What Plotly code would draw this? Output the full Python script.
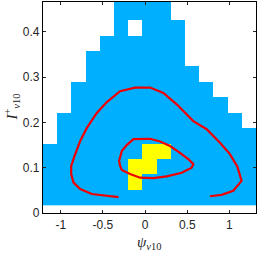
import plotly.graph_objects as go

# ---- data ----
# histogram bin centres
x_centers = [-1.126 + 0.1683 * k for k in range(15)]
y_centers = [0.035 + 0.034 * k for k in range(14)]
# number of filled (blue) rows in each column, from bottom
col_heights = [4, 6, 8, 10, 11, 14, 14, 14, 14, 12, 9, 8, 7, 6, 5]
# empty cells (col, row) inside the filled area
holes = [(6, 11)]
# high-density (yellow) cells (col, row)
yellow_cells = [(6, 1), (6, 2), (7, 2), (7, 3), (8, 3)]

# contour lines
outer_x = [-0.315, -0.473, -0.631, -0.769, -0.848, -0.876, -0.876, -0.828, -0.769, -0.690,
           -0.572, -0.453, -0.296, -0.118, 0.059, 0.217, 0.375, 0.572, 0.730, 0.888,
           1.006, 1.093, 1.144, 1.045, 0.907, 0.769]
outer_y = [0.035, 0.038, 0.042, 0.053, 0.067, 0.086, 0.104, 0.130, 0.159, 0.188,
           0.221, 0.245, 0.269, 0.277, 0.277, 0.265, 0.240, 0.203, 0.185, 0.155,
           0.130, 0.103, 0.071, 0.049, 0.040, 0.037]
inner_x = [-0.296, -0.308, -0.276, -0.217, -0.138, -0.039, 0.059, 0.178, 0.296, 0.414,
           0.513, 0.572, 0.552, 0.434, 0.257, 0.098, -0.059, -0.178, -0.276, -0.296]
inner_y = [0.104, 0.115, 0.137, 0.150, 0.163, 0.164, 0.164, 0.158, 0.148, 0.133,
           0.119, 0.108, 0.100, 0.089, 0.081, 0.077, 0.078, 0.086, 0.095, 0.104]

x_ticks = [-1, -0.5, 0, 0.5, 1]
x_ticklabels = ["-1", "-0.5", "0", "0.5", "1"]
y_ticks = [0, 0.1, 0.2, 0.3, 0.4]
y_ticklabels = ["0", "0.1", "0.2", "0.3", "0.4"]

# ---- build grid ----
z = [[None] * len(x_centers) for _ in y_centers]
for c, h in enumerate(col_heights):
    for r in range(h):
        z[r][c] = 1
for c, r in holes:
    z[r][c] = None
for c, r in yellow_cells:
    z[r][c] = 2

BLUE = "#00b0ff"
YELLOW = "#ffff00"
RED = "#f00000"

fig = go.Figure()
fig.add_trace(go.Heatmap(
    x=x_centers, y=y_centers, z=z, zmin=1, zmax=2,
    colorscale=[[0, BLUE], [0.5, BLUE], [0.5, YELLOW], [1, YELLOW]],
    showscale=False, hoverinfo="skip"))
fig.add_trace(go.Scatter(x=outer_x, y=outer_y, mode="lines",
                         line=dict(color=RED, width=2.2), showlegend=False))
fig.add_trace(go.Scatter(x=inner_x, y=inner_y, mode="lines",
                         line=dict(color=RED, width=2.2), showlegend=False))

axis_common = dict(showline=True, linecolor="black", linewidth=1.3, mirror="ticks",
                   ticks="inside", ticklen=3, tickcolor="#262626", showgrid=False,
                   zeroline=False, tickfont=dict(family="Liberation Sans, Arial", size=12, color="#262626"))
fig.update_xaxes(range=[-1.21, 1.315], tickvals=x_ticks, ticktext=x_ticklabels, **axis_common)
fig.update_yaxes(range=[0, 0.466], tickvals=y_ticks, ticktext=y_ticklabels, **axis_common)

fig.add_annotation(text="<i>ψ</i><sub><i>v</i>10</sub>", xref="paper", yref="paper",
                   x=0.498, y=-0.142, xanchor="center", yanchor="middle", showarrow=False,
                   font=dict(family="Liberation Serif, Times New Roman", size=15, color="#262626"))
fig.add_annotation(text="<i>I</i><sup>+</sup><sub><i>v</i>10</sub>", xref="paper", yref="paper",
                   x=-0.15, y=0.5, xanchor="center", yanchor="middle", showarrow=False,
                   textangle=-90,
                   font=dict(family="Liberation Serif, Times New Roman", size=15, color="#262626"))

fig.update_layout(width=258, height=253, margin=dict(l=43, r=2, t=2, b=40),
                  plot_bgcolor="white", paper_bgcolor="white", showlegend=False)
fig.write_html("out.html", config={"displayModeBar": False},
               post_script="document.body.style.margin='0';document.body.style.overflow='hidden';")
